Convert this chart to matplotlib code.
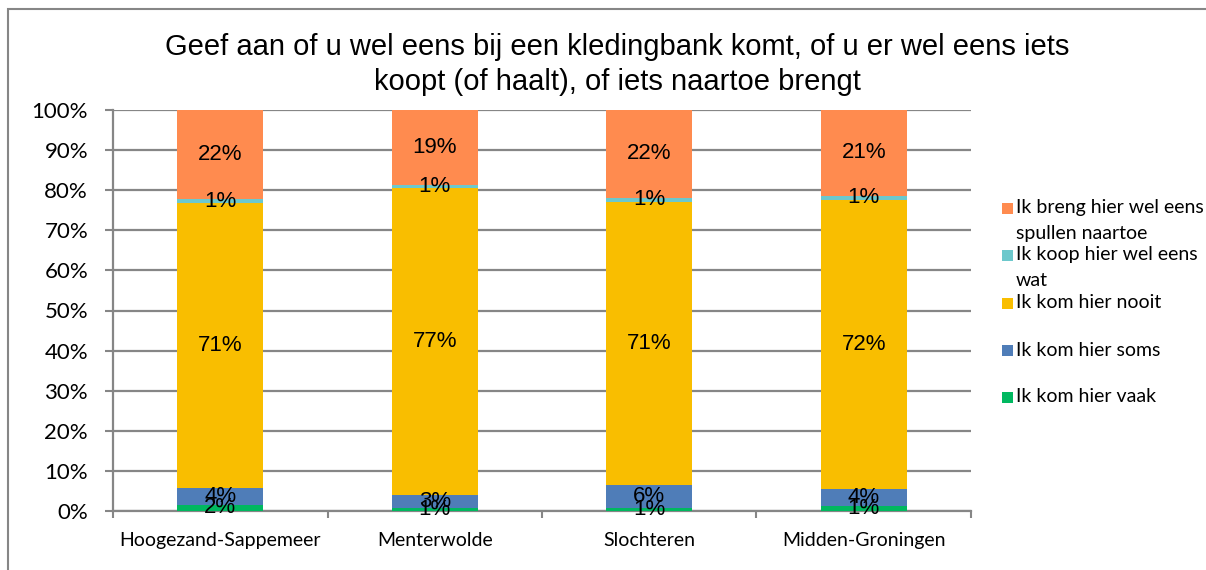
import matplotlib
matplotlib.use("Agg")
import matplotlib.pyplot as plt
from matplotlib.patches import Rectangle
import numpy as np

categories = ["Hoogezand-Sappemeer", "Menterwolde", "Slochteren", "Midden-Groningen"]
vaak = [1.6, 0.8, 0.8, 1.3]
soms = [4.2, 3.1, 5.7, 4.3]
nooit = [70.9, 76.6, 70.6, 72.0]
koop = [1.0, 0.9, 1.0, 1.0]
breng = [22.3, 18.6, 21.9, 21.4]

series_names = ["Ik kom hier vaak", "Ik kom hier soms", "Ik kom hier nooit",
                "Ik koop hier wel eens\nwat", "Ik breng hier wel eens\nspullen naartoe"]
series = [vaak, soms, nooit, koop, breng]
colors = ["#00B860", "#4F7DB8", "#F9BE00", "#6CC8CC", "#FF8B4F"]
title_lines = ["Geef aan of u wel eens bij een kledingbank komt, of u er wel eens iets",
               "koopt (of haalt), of iets naartoe brengt"]
yticks = [0, 10, 20, 30, 40, 50, 60, 70, 80, 90, 100]

W, H = 1206, 570
fig = plt.figure(figsize=(W / 100, H / 100), dpi=100)
fig.patch.set_facecolor("white")

# outer frame
fig.patches.append(Rectangle((8 / W, -0.1), 1.5, (H - 9) / H + 0.1, transform=fig.transFigure,
                             fill=False, edgecolor="#868686", linewidth=1.5))

ax = fig.add_axes([113 / W, (H - 511) / H, 858 / W, 401 / H])
x = np.arange(len(categories))
bottom = np.zeros(len(categories))
for vals, col in zip(series, colors):
    vals = np.array(vals)
    ax.bar(x, vals, bottom=bottom, width=0.40, color=col, zorder=3)
    for xi, b, v in zip(x, bottom, vals):
        ax.text(xi, b + v / 2, f"{round(v)}%", ha="center", va="center",
                fontsize=16, family="Liberation Sans", color="black", zorder=5)
    bottom += vals

ax.set_xlim(-0.5, len(categories) - 0.5)
ax.set_ylim(0, 100)
ax.set_yticks(yticks)
ax.set_yticklabels([f"{t}%" for t in yticks], family="Lato", fontsize=16)
ax.yaxis.grid(True, color="#868686", linewidth=1.6, zorder=0)
ax.set_axisbelow(True)
ax.set_xticks(x)
ax.set_xticklabels(categories, family="Lato", fontsize=14)
ax.set_xticks(np.arange(len(categories) + 1) - 0.5, minor=True)
ax.tick_params(axis="x", which="major", length=0, pad=15)
ax.tick_params(axis="x", which="minor", length=5, width=1.5, color="#868686", direction="out")
ax.tick_params(axis="y", length=6, width=1.5, color="#868686", pad=12)
for s in ["top", "right"]:
    ax.spines[s].set_visible(False)
for s in ["left", "bottom"]:
    ax.spines[s].set_color("#868686")
    ax.spines[s].set_linewidth(1.6)

for i, line in enumerate(title_lines):
    fig.text(0.512, (H - 47 - i * 35) / H, line, ha="center", va="center", fontsize=21,
             family="Liberation Sans")

# legend (manual)
leg_y = [208, 255, 303, 350, 397]
order = [4, 3, 2, 1, 0]
for yy, i in zip(leg_y, order):
    fig.patches.append(Rectangle((1002 / W, (H - yy - 6) / H), 11 / W, 11 / H,
                                 transform=fig.transFigure, facecolor=colors[i], edgecolor="none"))
    for j, ln in enumerate(series_names[i].split("\n")):
        fig.text(1016 / W, (H - yy - j * 25) / H, ln, ha="left", va="center",
                 fontsize=14, family="Lato")

fig.savefig("out.png", dpi=100)
